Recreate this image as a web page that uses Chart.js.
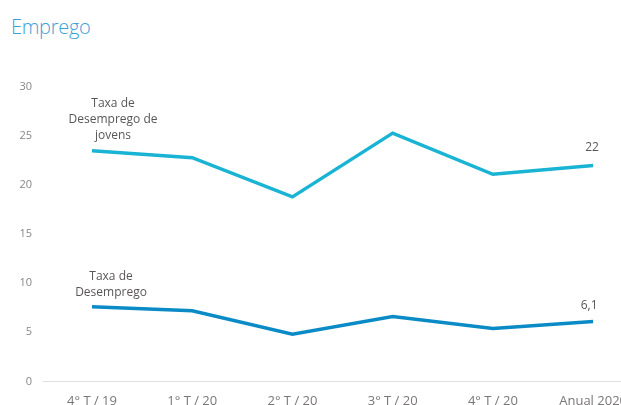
<!DOCTYPE html>
<html><head><meta charset="utf-8">
<script src="https://cdn.jsdelivr.net/npm/chart.js@4"></script>
<style>
html,body{margin:0;padding:0;background:#fff;overflow:hidden;width:621px;height:405px;}
#title{position:absolute;left:11px;top:13px;font-family:"Open Sans",sans-serif;font-weight:300;font-size:20px;color:#3a9fd6;letter-spacing:-0.3px;}
#wrap{position:absolute;left:0;top:0;width:631px;height:440px;}
</style></head>
<body>
<div id="title">Emprego</div>
<div id="wrap"><canvas id="c" width="631" height="440" style="width:631px;height:440px"></canvas></div>
<script>
const categories = ["4° T / 19", "1° T / 20", "2° T / 20", "3° T / 20", "4° T / 20", "Anual 2020"];
const youthRate = [23.5, 22.8, 18.8, 25.3, 21.1, 22.0];
const unemploymentRate = [7.6, 7.2, 4.8, 6.6, 5.4, 6.1];
const yTicks = [0, 5, 10, 15, 20, 25, 30];
const youthLabel = ["Taxa de", "Desemprego de", "jovens"];
const unempLabel = ["Taxa de", "Desemprego"];
const youthEndLabel = "22";
const unempEndLabel = "6,1";

const annot = {
  id: 'annot',
  beforeDatasetsDraw(chart) {
    const {ctx, scales:{x, y}} = chart;
    const y0 = y.getPixelForValue(0);
    ctx.save();
    ctx.strokeStyle = '#e3dede';
    ctx.lineWidth = 1;
    ctx.beginPath();
    ctx.moveTo(43, Math.round(y0) + 0.5);
    ctx.lineTo(chart.width, Math.round(y0) + 0.5);
    ctx.stroke();
    ctx.restore();
  },
  afterDatasetsDraw(chart) {
    const {ctx, scales:{x, y}} = chart;
    ctx.save();
    ctx.fillStyle = '#5a5656';
    ctx.font = '12px "Open Sans", sans-serif';
    ctx.textAlign = 'center';
    ctx.textBaseline = 'middle';
    const x0 = x.getPixelForValue(0) + 21;
    const yy = y.getPixelForValue(youthRate[0]);
    youthLabel.forEach((t, i) => ctx.fillText(t, x0, yy - 47 + i * 16));
    const yu = y.getPixelForValue(unemploymentRate[0]);
    unempLabel.forEach((t, i) => ctx.fillText(t, x0 - 2, yu - 30 + i * 16));
    const xl = x.getPixelForValue(categories.length - 1);
    ctx.fillText(youthEndLabel, xl - 1, y.getPixelForValue(youthRate[youthRate.length - 1]) - 18);
    ctx.fillText(unempEndLabel, xl - 4, y.getPixelForValue(unemploymentRate[unemploymentRate.length - 1]) - 16);
    ctx.restore();
  }
};

new Chart(document.getElementById('c'), {
  type: 'line',
  data: {
    labels: categories,
    datasets: [
      { data: youthRate, borderColor: '#19b3d3', borderWidth: 3.5, pointRadius: 0, tension: 0, fill: false },
      { data: unemploymentRate, borderColor: '#0b8bc6', borderWidth: 3.5, pointRadius: 0, tension: 0, fill: false }
    ]
  },
  options: {
    responsive: false,
    maintainAspectRatio: false,
    devicePixelRatio: 1,
    animation: false,
    layout: { padding: { left: 10, right: 0, top: 87, bottom: 0 } },
    plugins: { legend: { display: false }, tooltip: { enabled: false }, title: { display: false } },
    scales: {
      x: {
        type: 'category',
        offset: false,
        grid: { display: false },
        border: { display: false },
        ticks: { color: '#7a7676', font: { family: '"Open Sans", sans-serif', size: 13 }, padding: 4, maxRotation: 0, minRotation: 0, autoSkip: false },
        afterFit(scale) { scale.height = 40.5; }
      },
      y: {
        min: 0, max: 30,
        afterBuildTicks(scale) { scale.ticks = yTicks.map(v => ({ value: v })); },
        grid: { display: false },
        border: { display: false },
        ticks: { color: '#8a8585', font: { family: '"Open Sans", sans-serif', size: 11 }, padding: 52 },
        afterFit(scale) { scale.width = 82; }
      }
    }
  },
  plugins: [annot]
});
</script>
</body></html>
